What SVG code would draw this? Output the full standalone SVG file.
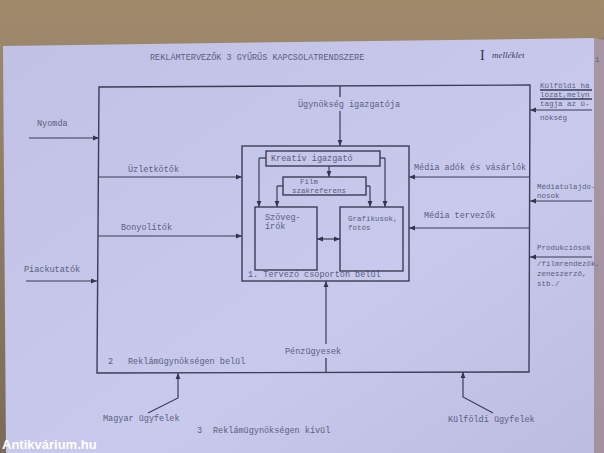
<svg xmlns="http://www.w3.org/2000/svg" width="604" height="453" viewBox="0 0 604 453">
<defs>
<linearGradient id="wood" x1="0" y1="0" x2="0" y2="1"><stop offset="0" stop-color="#a08a6c"/><stop offset="1" stop-color="#7d6a56"/></linearGradient>
<linearGradient id="paper" x1="0" y1="0" x2="1" y2="1"><stop offset="0" stop-color="#c0c1e4"/><stop offset="0.6" stop-color="#c8c9ec"/><stop offset="1" stop-color="#bcbce0"/></linearGradient>
<marker id="ah" viewBox="0 0 10 10" refX="10" refY="5" markerWidth="6" markerHeight="6" orient="auto-start-reverse" markerUnits="userSpaceOnUse"><path d="M0,1 L10,5 L0,9 z" fill="#33364f"/></marker>
</defs>
<style>
.t{font-family:"Liberation Mono",monospace;font-size:8.5px;fill:#5a5e80}
.s{font-family:"Liberation Mono",monospace;font-size:7.5px;fill:#5a5e80}
.ln{stroke:#3a3d58;stroke-width:1.3;fill:none}
.bx{stroke:#3a3d58;stroke-width:1.4;fill:none}
.ar{stroke:#3a3d58;stroke-width:1.2;fill:none;marker-end:url(#ah)}
.ab{stroke:#3a3d58;stroke-width:1.2;fill:none;marker-end:url(#ah);marker-start:url(#ah)}
.wm{font-family:"Liberation Sans",sans-serif;font-size:13px;font-weight:bold;fill:#ffffff}
</style>
<rect width="604" height="453" fill="url(#wood)"/>
<path d="M3,46 L596,38 L604,40 L604,453 L6,453 Z" fill="url(#paper)"/>
<rect x="594" y="38" width="10" height="415" fill="#8a6f66" opacity="0.55"/>

<text class="t" x="150" y="60">REKLÁMTERVEZŐK 3 GYŰRŰS KAPCSOLATRENDSZERE</text>
<text x="480" y="60" font-family="Liberation Serif,serif" font-size="14" fill="#2e3050">I</text>
<text x="492" y="58" font-family="Liberation Serif,serif" font-style="italic" font-size="9" fill="#3e4060">melléklet</text>
<text class="s" x="595" y="62">1</text>

<g id="outer"><path class="bx" d="M99,87 L530,85 L529,372 L97,373 Z"/>
<text class="t" x="108" y="364">2</text><text class="t" x="128" y="364">Reklámügynökségen belül</text></g>
<g id="inner"><rect class="bx" x="242" y="146" width="167" height="135"/>
<text class="t" x="248" y="277">1. Tervező csoporton belül</text></g>
<g id="kreativ"><rect class="bx" x="266" y="151" width="114" height="15"/><text class="t" x="271" y="161">Kreatív igazgató</text></g>
<g id="film"><rect class="bx" x="283" y="177" width="83" height="18"/><text class="s" x="300" y="184">Film</text><text class="s" x="292" y="193">szakreferens</text></g>
<g id="szoveg"><rect class="bx" x="255" y="207" width="62" height="63"/><text class="t" x="265" y="220">Szöveg-</text><text class="t" x="265" y="229">írók</text></g>
<g id="grafikus"><rect class="bx" x="340" y="207" width="63" height="64"/><text class="s" x="348" y="221">Grafikusok,</text><text class="s" x="348" y="230">fotós</text></g>

<g id="igazgato"><text class="t" x="298" y="107">Ügynökség igazgatója</text></g>
<g id="nyomda"><text class="t" x="37" y="126">Nyomda</text></g>
<g id="uzletkotok"><text class="t" x="128" y="172">Üzletkötők</text></g>
<g id="bonyolitok"><text class="t" x="121" y="230">Bonyolítók</text></g>
<g id="piackutatok"><text class="t" x="24" y="272">Piackutatók</text></g>
<g id="penzugyesek"><text class="t" x="285" y="354">Pénzügyesek</text></g>
<g id="mediaado"><text class="t" x="414" y="170">Média adók és vásárlók</text></g>
<g id="mediatervezok"><text class="t" x="424" y="218">Média tervezők</text></g>
<g id="kulfoldihalozat"><text class="s" x="540" y="88">Külföldi há</text><text class="s" x="540" y="97">lózat,melyn</text><text class="s" x="540" y="106">tagja az ü-</text><text class="s" x="540" y="120">nökség</text>
<path class="ln" d="M540,90 L592,90 M540,99 L592,99" stroke-width="0.9"/></g>
<g id="mediatulaj"><text class="s" x="537" y="189">Médiatulajdo-</text><text class="s" x="537" y="198">nosok</text></g>
<g id="produkciosok"><text class="s" x="537" y="250">Produkciósok</text><text class="s" x="537" y="266">/filmrendezők,</text><text class="s" x="537" y="276">zeneszerző,</text><text class="s" x="537" y="286">stb./</text></g>
<g id="magyar"><text class="t" x="103" y="421">Magyar ügyfelek</text></g>
<g id="kulfoldi"><text class="t" x="448" y="422">Külföldi ügyfelek</text></g>
<g id="kivul"><text class="t" x="197" y="433">3</text><text class="t" x="213" y="433">Reklámügynökségen kívül</text></g>

<text class="wm" x="2" y="449">Antikvárium.hu</text>

<g id="connectors">
<path class="ln" d="M340,86 L340,97"/><path class="ar" d="M340,111 L340,146"/>
<path class="ln" d="M266,158 L259,158"/><path class="ar" d="M259,158 L259,207"/>
<path class="ln" d="M380,158 L385,158"/><path class="ar" d="M385,158 L385,207"/>
<path class="ar" d="M329,166 L329,177"/>
<path class="ln" d="M283,186 L277,186"/><path class="ar" d="M277,186 L277,207"/>
<path class="ln" d="M366,186 L370,186"/><path class="ar" d="M370,186 L370,207"/>
<path class="ab" d="M317,239 L340,239"/>
<path class="ar" d="M530,177 L409,177"/>
<path class="ar" d="M530,228 L409,228"/>
<path class="ar" d="M29,138 L99,138"/>
<path class="ar" d="M99,177 L242,177"/>
<path class="ar" d="M98,236 L242,236"/>
<path class="ar" d="M26,281 L97,281"/>
<path class="ln" d="M326,372 L326,358"/><path class="ar" d="M326,344 L326,281"/>
<path class="ar" d="M592,110 L530,110"/>
<path class="ar" d="M592,201 L530,201"/>
<path class="ar" d="M592,257 L530,257"/>
<path class="ar" d="M148,413 L178,398 L178,373"/>
<path class="ar" d="M493,413 L463,397 L463,372"/>
</g>
</svg>
